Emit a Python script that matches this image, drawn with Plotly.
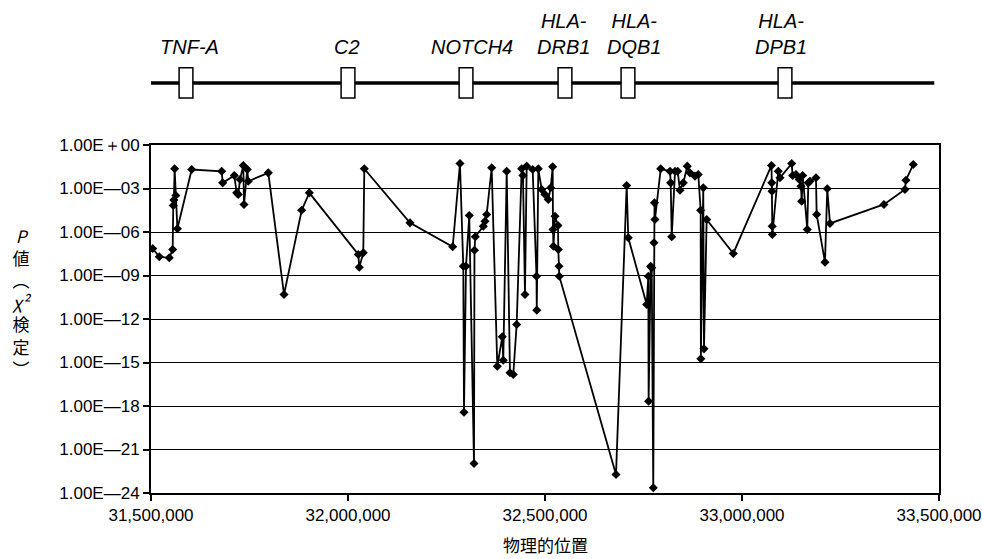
import plotly.graph_objects as go

# ---- data ----
positions = [31504300, 31521100, 31546400, 31555000, 31556500, 31558000, 31560000, 31563000, 31567000, 31603300,
             31679400, 31682000, 31711400, 31717500, 31721600, 31725900, 31734300, 31736000, 31744400, 31746900,
             31797700, 31837600, 31882500, 31901800, 32026100, 32028700, 32038800, 32041400, 32157300, 32265700,
             32284200, 32292600, 32294400, 32299500, 32307800, 32319800, 32321000, 32323100, 32343400, 32347700,
             32352000, 32364700, 32378900, 32391600, 32394100, 32402800, 32411100, 32419500, 32428100, 32440800,
             32444100, 32449200, 32453500, 32468700, 32478400, 32479100, 32483000, 32491600, 32500000, 32508400,
             32514500, 32519500, 32520300, 32521500, 32525400, 32533000, 32533800, 32535500, 32536300, 32680200,
             32707300, 32711400, 32758100, 32762200, 32763000, 32768200, 32770800, 32774800, 32776600, 32777900,
             32779000, 32793700, 32817300, 32819000, 32821600, 32830000, 32836700, 32842600, 32851000, 32861100,
             32867900, 32880600, 32889000, 32895100, 32895600, 32901700, 32903500, 32910300, 32977900, 33074800,
             33075600, 33076100, 33076600, 33077100, 33092100, 33096400, 33126100, 33128600, 33137000, 33145400,
             33149700, 33151500, 33154000, 33165700, 33168300, 33172500, 33187800, 33189500, 33210600, 33216400,
             33223300, 33360300, 33413600, 33416100, 33434700]

log10_p = [-7.14, -7.71, -7.78, -7.21, -4.17, -3.80, -1.64, -3.48, -5.78, -1.69,
           -1.81, -2.61, -2.10, -3.30, -3.41, -2.38, -1.41, -4.10, -1.69, -2.50,
           -1.92, -10.31, -4.50, -3.30, -7.55, -8.43, -7.43, -1.64, -5.37, -7.02,
           -1.28, -8.36, -18.43, -8.36, -4.86, -21.97, -7.26, -6.33, -5.60, -5.26,
           -4.79, -1.57, -15.26, -13.23, -14.84, -1.81, -15.71, -15.83, -12.38, -1.64,
           -2.10, -10.31, -1.46, -1.69, -9.05, -11.39, -1.64, -3.07, -3.41, -3.76,
           -2.95, -1.50, -5.83, -6.98, -4.91, -5.55, -7.21, -8.36, -9.05, -22.72,
           -2.79, -6.40, -11.00, -9.05, -17.67, -8.36, -8.47, -23.64, -6.74, -3.99,
           -5.14, -1.64, -1.81, -2.61, -6.33, -1.81, -1.81, -3.12, -2.61, -1.46,
           -1.92, -2.15, -2.03, -4.50, -14.74, -2.95, -14.06, -5.14, -7.48, -1.41,
           -2.61, -3.19, -5.60, -6.17, -1.81, -2.26, -1.28, -2.10, -2.03, -2.38,
           -2.84, -3.88, -2.10, -5.83, -2.61, -2.50, -2.26, -4.79, -8.08, -3.02,
           -5.41, -4.10, -3.07, -2.43, -1.34]

p_values = [10 ** v for v in log10_p]

x_ticks = [31500000, 32000000, 32500000, 33000000, 33500000]
x_tick_labels = ["31,500,000", "32,000,000", "32,500,000", "33,000,000", "33,500,000"]

y_exponents = [0, -3, -6, -9, -12, -15, -18, -21, -24]
y_tick_labels = ["1.00E\uff0b00"] + ["1.00E\u2014%02d" % (-e) for e in y_exponents[1:]]

gene_names = ["TNF-A", "C2", "NOTCH4", "HLA-<br>DRB1", "HLA-<br>DQB1", "HLA-<br>DPB1"]
gene_pos = [31588800, 32000000, 32299500, 32550700, 32710600, 33109100]
label_shift = [4, -1, 6, -1, 6, -4]

map_start, map_end = 31490000, 33488000

FONT = "Liberation Sans, Arial, sans-serif"
CJK = "Noto Sans CJK JP, sans-serif"

fig = go.Figure()
fig.add_trace(go.Scatter(
    x=positions, y=p_values, mode="lines+markers",
    line=dict(color="black", width=1.8),
    marker=dict(symbol="diamond", size=7, color="black"),
    showlegend=False, hoverinfo="skip",
))

shapes = []
# gene map backbone
shapes.append(dict(type="line", xref="x", yref="paper", x0=map_start, x1=map_end,
                   y0=1.178, y1=1.178, line=dict(color="black", width=3.5), layer="above"))
half_w = 17500
for g in gene_pos:
    shapes.append(dict(type="rect", xref="x", yref="paper", x0=g - half_w, x1=g + half_w,
                       y0=1.135, y1=1.222, fillcolor="white",
                       line=dict(color="black", width=1.5), layer="above"))

annotations = []
for name, g, s in zip(gene_names, gene_pos, label_shift):
    annotations.append(dict(x=g, y=1.243, xref="x", yref="paper", text="<i>%s</i>" % name,
                            showarrow=False, xanchor="center", yanchor="bottom", xshift=s,
                            font=dict(family=FONT, size=20, color="black")))

# y axis title (vertical Japanese)
annotations.append(dict(x=-0.164, y=0.55, xref="paper", yref="paper",
                        text="<i>P</i><br>値<br>︵<br><i>χ²</i><br>検<br>定<br>︶",
                        showarrow=False, xanchor="center", yanchor="middle", align="center",
                        font=dict(family=CJK, size=17, color="black")))
# x axis title
annotations.append(dict(x=0.5, y=-0.148, xref="paper", yref="paper", text="物理的位置",
                        showarrow=False, xanchor="center", yanchor="middle",
                        font=dict(family=CJK, size=17, color="black")))

fig.update_layout(
    width=982, height=559,
    margin=dict(l=151, r=43, t=145, b=66, autoexpand=False),
    paper_bgcolor="white", plot_bgcolor="white",
    shapes=shapes, annotations=annotations,
    font=dict(family=FONT, size=15, color="black"),
)
fig.update_xaxes(
    range=[31500000, 33500000], tickvals=x_ticks, ticktext=x_tick_labels,
    showgrid=False, zeroline=False, automargin=False,
    showline=True, linecolor="black", linewidth=2, mirror=True,
    ticks="outside", ticklen=6, tickcolor="black", tickwidth=1.5,
    tickfont=dict(family=FONT, size=17, color="black"),
)
fig.update_yaxes(
    type="log", range=[-24, 0], automargin=False,
    tickvals=[10 ** e for e in y_exponents], ticktext=y_tick_labels,
    showgrid=True, gridcolor="black", gridwidth=1.2, zeroline=False,
    showline=True, linecolor="black", linewidth=2, mirror=True,
    ticks="outside", ticklen=6, tickcolor="black", tickwidth=1.5,
    tickfont=dict(family=FONT, size=17, color="black"),
)

fig.write_html("out.html")
